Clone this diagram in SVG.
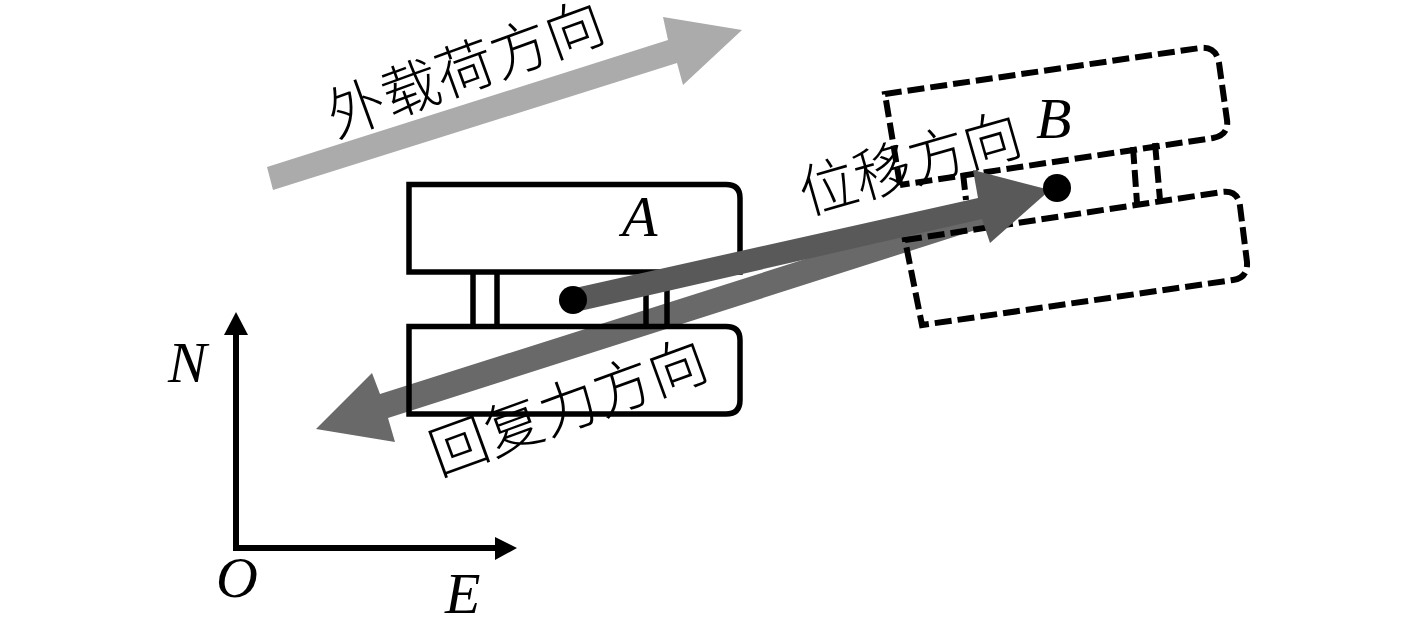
<svg xmlns="http://www.w3.org/2000/svg" width="1417" height="619" viewBox="0 0 1417 619">
<style>
.s{fill:none;stroke:#000;stroke-width:5.5}
.d{fill:none;stroke:#000;stroke-width:6;stroke-dasharray:17 6}
.l{font-family:"Liberation Serif",serif;font-style:italic;font-size:58px;fill:#000}
.c{font-family:"Noto Sans CJK SC",sans-serif;font-weight:300;font-size:58px;fill:#000}
</style>
<rect width="1417" height="619" fill="#fff"/>
<g id="connectors-under">
<path id="restoring-arrow" fill="#696969" d="M985 202L380 394L372 373L316 429L395 442L388 418L985 227Z"/>
</g>
<g id="block-a">
<path class="s" d="M409 184.500H726Q740 184.500 740 198V272H409Z"/>
<path class="s" d="M409 326.500H726Q740 326.500 740 340V400Q740 414 726 414H409Z"/>
<path class="s" d="M473 272V326M497 272V326M646 272V326M667 272V326"/>
</g>
<g id="block-b">
<path class="d" d="M900 185L885 94L1200 48Q1216 46 1219 63L1227 120Q1229 135 1213 138L900 185"/>
<path class="d" d="M905 240L1222 192Q1238 190 1240 206L1247 262Q1248 278 1233 280L922 325Z"/>
<path class="d" d="M963 173L966 200M1133 147L1137 203M1155 143L1160 200"/>
</g>
<g id="connectors">
<path id="load-arrow" fill="#ababab" d="M267 167L668 40L663 17L742 30L683 85L677 63L273 190Z"/>
<path id="displacement-arrow" fill="#595959" d="M575 288L978 198L973 170L1050 190L990 243L982 219L580 311Z"/>
<path id="axes" fill="none" stroke="#000" stroke-width="6" d="M236 330V548H500"/>
<path fill="#000" d="M236 312L248 335H224Z"/>
<path fill="#000" d="M517 548L495 537V560Z"/>
</g>
<g id="point-a"><circle cx="573" cy="300" r="14"/><text class="l" x="622" y="236">A</text></g>
<g id="point-b"><circle cx="1057" cy="188" r="14"/><text class="l" x="1036" y="138">B</text></g>
<g id="labels">
<text class="l" x="168" y="382">N</text>
<text class="l" x="216" y="597">O</text>
<text class="l" x="445" y="613">E</text>
<text class="c" transform="translate(336 138) rotate(-20)">外载荷方向</text>
<text class="c" transform="translate(806 215) rotate(-16)" textLength="228">位移方向</text>
<text class="c" transform="translate(439 476) rotate(-20)">回复力方向</text>
</g>
</svg>
